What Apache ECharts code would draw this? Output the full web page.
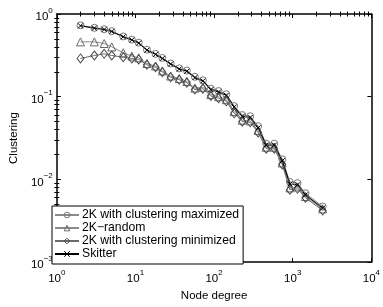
<!DOCTYPE html>
<html>
<head>
<meta charset="utf-8">
<script src="https://cdn.jsdelivr.net/npm/echarts@6/dist/echarts.min.js"></script>
<style>
  html, body { margin: 0; padding: 0; background: #fff; }
  #chart { width: 383px; height: 307px; }
</style>
</head>
<body>
<div id="chart"></div>
<script>
// node degree bins (x) and average clustering per bin
const degree = [2, 3, 4, 5, 7, 9, 11, 14, 18, 22, 28, 36, 45, 57, 72, 91, 114, 143, 180, 228, 288, 363, 460, 582, 735, 920, 1150, 1450, 2400];
const clustMax = [0.73, 0.68, 0.655, 0.62, 0.535, 0.49, 0.45, 0.37, 0.33, 0.294, 0.252, 0.22, 0.207, 0.174, 0.158, 0.125, 0.117, 0.107, 0.077, 0.060, 0.058, 0.044, 0.027, 0.027, 0.0175, 0.0093, 0.0090, 0.0068, 0.0047];
const clust2K = [0.46, 0.46, 0.44, 0.40, 0.34, 0.31, 0.295, 0.252, 0.235, 0.205, 0.178, 0.166, 0.153, 0.127, 0.130, 0.106, 0.100, 0.092, 0.066, 0.052, 0.051, 0.039, 0.0245, 0.0245, 0.0158, 0.0079, 0.0081, 0.0062, 0.0044];
const clustMin = [0.29, 0.315, 0.33, 0.315, 0.30, 0.29, 0.282, 0.243, 0.227, 0.198, 0.172, 0.160, 0.148, 0.122, 0.125, 0.102, 0.096, 0.088, 0.063, 0.050, 0.049, 0.037, 0.0235, 0.0235, 0.0152, 0.0075, 0.0077, 0.0060, 0.0042];
const skitter = [0.72, 0.675, 0.65, 0.615, 0.53, 0.485, 0.445, 0.365, 0.325, 0.29, 0.248, 0.216, 0.203, 0.170, 0.155, 0.122, 0.114, 0.104, 0.075, 0.058, 0.056, 0.042, 0.026, 0.026, 0.0168, 0.0088, 0.0086, 0.0065, 0.0045];

// minor tick positions (2..9 per decade), given as exponents for helper value axes
const xMinorExp = [];
for (let e = 0; e < 4; e++) for (let m = 2; m <= 9; m++) xMinorExp.push(e + Math.log10(m));
const yMinorExp = [];
for (let e = -3; e < 0; e++) for (let m = 2; m <= 9; m++) yMinorExp.push(e + Math.log10(m));

const font = 'Liberation Sans, Arial, sans-serif';

function powLabel(v) {
    const e = Math.round(Math.log10(v));
    return '{b|10}{s|' + String(e).replace('-', '\u2212') + '}';
}
const powRich = {
    b: { fontSize: 11.5, fontFamily: font, color: '#000', padding: [6, 0, 0, 0] },
    s: { fontSize: 8, fontFamily: font, color: '#000', padding: [0, 0, 7, 0] }
};

function pair(series) {
    return series.map(function (v, i) { return [degree[i], v]; });
}

function hiddenAxis(extra) {
    return Object.assign({
        splitLine: { show: false },
        axisLine: { show: false },
        axisLabel: { show: false },
        axisTick: { show: false }
    }, extra);
}

const boxLine = { show: true, onZero: false, lineStyle: { color: '#000', width: 1.5 } };
const majorTick = { show: true, inside: true, length: 4, lineStyle: { color: '#000', width: 1 } };
function minorTick(values) {
    return { show: true, inside: true, length: 2.5, customValues: values, lineStyle: { color: '#000', width: 1 } };
}
function minorAxis(min, max, pos, values) {
    return hiddenAxis({ type: 'value', min: min, max: max, position: pos, axisTick: minorTick(values) });
}

const chart = echarts.init(document.getElementById('chart'));
const option = {
    animation: false,
    backgroundColor: '#fff',
    grid: { left: 49, right: 7, top: 14, bottom: 37 },
    xAxis: [
        hiddenAxis({
            type: 'log', logBase: 10, min: 1, max: 10000, position: 'bottom',
            name: 'Node degree', nameLocation: 'middle', nameGap: 21,
            nameTextStyle: { fontFamily: font, fontSize: 11.5, color: '#000' },
            axisLine: boxLine,
            axisTick: majorTick,
            axisLabel: { show: true, margin: 5, formatter: powLabel, rich: powRich }
        }),
        minorAxis(0, 4, 'bottom', xMinorExp),
        hiddenAxis({ type: 'log', logBase: 10, min: 1, max: 10000, position: 'top', axisLine: boxLine, axisTick: majorTick }),
        minorAxis(0, 4, 'top', xMinorExp)
    ],
    yAxis: [
        hiddenAxis({
            type: 'log', logBase: 10, min: 0.001, max: 1, position: 'left',
            name: 'Clustering', nameLocation: 'middle', nameGap: 30,
            nameTextStyle: { fontFamily: font, fontSize: 11.5, color: '#000' },
            axisLine: boxLine,
            axisTick: majorTick,
            axisLabel: { show: true, margin: 4, formatter: powLabel, rich: powRich }
        }),
        minorAxis(-3, 0, 'left', yMinorExp),
        hiddenAxis({ type: 'log', logBase: 10, min: 0.001, max: 1, position: 'right', axisLine: boxLine, axisTick: majorTick }),
        minorAxis(-3, 0, 'right', yMinorExp)
    ],
    legend: {
        orient: 'vertical',
        left: 52, top: 206,
        itemWidth: 24, itemHeight: 7, itemGap: 1,
        padding: [3, 4, 4, 2],
        backgroundColor: '#fff',
        borderColor: '#000', borderWidth: 1,
        itemStyle: { borderWidth: 1 },
        textStyle: { fontFamily: font, fontSize: 12.2, color: '#000', padding: [0, 0, 0, -2] },
        data: ['2K with clustering maximized', '2K\u2212random', '2K with clustering minimized', 'Skitter']
    },
    series: [
        {
            name: '2K with clustering maximized', type: 'line', data: pair(clustMax),
            symbol: 'circle', symbolSize: 7,
            lineStyle: { color: '#8a8a8a', width: 1 },
            itemStyle: { color: 'rgba(255,255,255,0)', borderColor: '#777', borderWidth: 1 }
        },
        {
            name: '2K\u2212random', type: 'line', data: pair(clust2K),
            symbol: 'triangle', symbolSize: 8,
            lineStyle: { color: '#8a8a8a', width: 1 },
            itemStyle: { color: 'rgba(255,255,255,0)', borderColor: '#6a6a6a', borderWidth: 1 }
        },
        {
            name: '2K with clustering minimized', type: 'line', data: pair(clustMin),
            symbol: 'diamond', symbolSize: [7, 9],
            lineStyle: { color: '#6a6a6a', width: 1 },
            itemStyle: { color: 'rgba(255,255,255,0)', borderColor: '#4a4a4a', borderWidth: 1 }
        },
        {
            name: 'Skitter', type: 'line', data: pair(skitter),
            symbol: 'path://M0,0L10,10M10,0L0,10', symbolSize: 5,
            lineStyle: { color: '#000', width: 1.1 },
            itemStyle: { color: '#000', borderColor: '#000', borderWidth: 1 }
        }
    ]
};
chart.setOption(option);
</script>
</body>
</html>
